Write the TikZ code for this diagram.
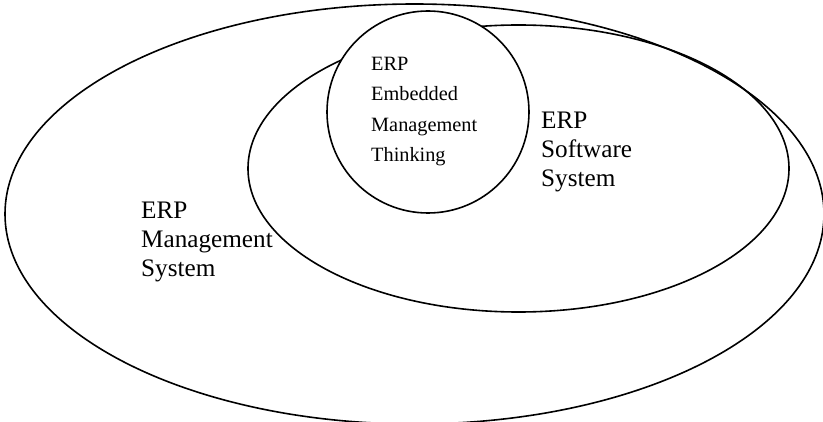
\documentclass[tikz,border=0pt]{standalone}
\usepackage{fontspec}
\setmainfont{Liberation Serif}
\begin{document}
\begin{tikzpicture}[x=1pt,y=-1pt,
    outline/.style={draw=black, line width=1.6pt},
    bigtext/.style={align=left, inner sep=0pt, anchor=north west, font=\fontsize{25.2}{29}\selectfont},
    smalltext/.style={align=left, inner sep=0pt, anchor=north west, font=\fontsize{20.3}{30.3}\selectfont}]
    \useasboundingbox (0,0) rectangle (823,422);
    \fill [white] (0,0) rectangle (823,422);

    \coordinate (mgmt) at (414.5,214);
    \coordinate (soft) at (518.5,168.5);
    \coordinate (think) at (428,112);

    \draw [outline] (mgmt) ellipse (409.5pt and 210pt);
    \draw [outline] (soft) ellipse (270.5pt and 143.5pt);
    \draw [outline, fill=white] (think) circle (101pt);

    \node[smalltext] (thinklabel) at (371,57) {ERP\\Embedded\\Management\\Thinking};
    \node[bigtext] (softlabel) at (541,112) {ERP\\Software\\System};
    \node[bigtext] (mgmtlabel) at (141,202) {ERP\\Management\\System};
\end{tikzpicture}
\end{document}
